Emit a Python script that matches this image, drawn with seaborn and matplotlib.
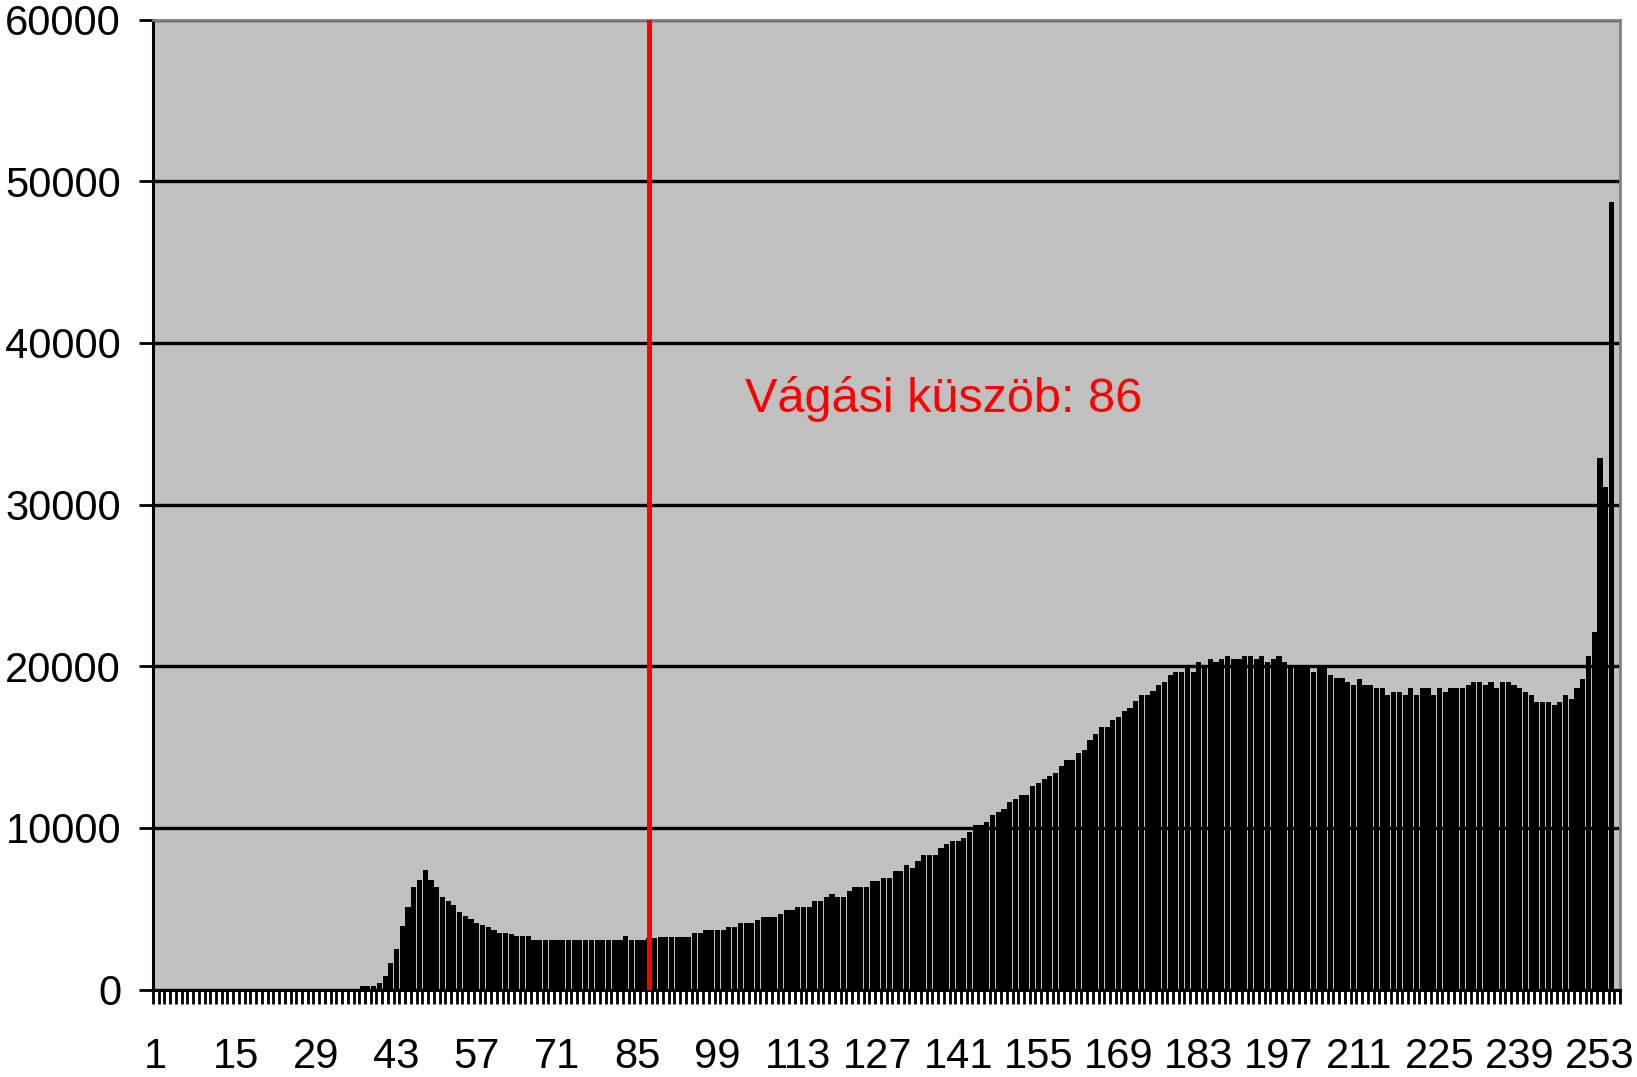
import numpy as np
import pandas as pd
import matplotlib
matplotlib.use("Agg")
import matplotlib.pyplot as plt
import seaborn as sns

# Histogram of grey levels (1..256)
levels = [str(v) for v in range(1, 257)]
counts = [
    0, 0, 0, 0, 0, 0, 0, 0, 0, 0, 0, 0, 0, 0, 0, 0,
    0, 0, 0, 0, 0, 0, 0, 0, 0, 0, 0, 0, 0, 0, 0, 0,
    0, 0, 0, 0, 240, 240, 240, 430, 840, 1670, 2480, 3900, 5120, 6350,
    6760, 7380, 6770, 6350, 5750, 5450, 5200, 4800, 4550, 4350, 4100, 4000, 3850, 3650,
    3490, 3490, 3450, 3290, 3290, 3280,
    3080, 3080, 3080, 3080, 3080, 3080, 3080, 3080, 3080, 3080, 3080, 3080, 3080, 3080, 3080, 3080,
    3280, 3080, 3080, 3070, 3200, 3180, 3270, 3270, 3270, 3270, 3270, 3270, 3480, 3480,
    3690, 3690, 3690, 3690, 3880, 3880, 4090, 4090, 4090, 4290, 4500, 4500, 4500, 4700,
    4910, 4910, 5120, 5120, 5120, 5490, 5490, 5700, 5900, 5700, 5700, 6100, 6310, 6310,
    6310, 6700, 6700, 6910, 6910, 7320, 7320, 7730, 7530, 7940, 8350, 8350, 8350, 8760,
    8970, 9180, 9180, 9380, 9770, 10160, 10160, 10370, 10780, 10990, 11190, 11600, 11810, 12020,
    12020, 12600, 12800, 13010, 13210, 13400, 13810, 14220, 14220, 14610, 14820, 15420, 15830, 16240,
    16240, 16650, 16860, 17220, 17430, 17850, 18230, 18230, 18440, 18850, 19030, 19440, 19650, 19650,
    19860, 19650, 20230, 20060, 20430, 20230, 20430, 20640, 20430, 20430, 20640, 20640, 20430, 20640,
    20230, 20430, 20640, 20230, 20060, 20060, 20060, 19860, 19650, 19860, 19860, 19440, 19240, 19240,
    19030, 18830, 19200, 18830, 18830, 18620, 18620, 18210, 18410, 18410, 18210, 18620, 18210, 18620,
    18620, 18210, 18620, 18410, 18620, 18620, 18620, 18830, 19030, 19030, 18830, 19030, 18620, 19030,
    19030, 18830, 18620, 18410, 18210, 17800, 17800, 17800, 17590, 17800, 18210, 18000, 18620, 19200,
    20640, 22100, 32900, 31100, 48700, 0,
]
threshold = 86
label_text = "Vágási küszöb: 86"
xtick_labels = ["1", "15", "29", "43", "57", "71", "85", "99", "113", "127",
                "141", "155", "169", "183", "197", "211", "225", "239", "253"]
yticks = [0, 10000, 20000, 30000, 40000, 50000, 60000]

sns.set_style("white")
plt.rcParams['font.family'] = ['Liberation Sans', 'DejaVu Sans']
plt.rcParams['text.color'] = 'black'
plt.rcParams['xtick.color'] = 'black'
plt.rcParams['ytick.color'] = 'black'

fig = plt.figure(figsize=(16.37, 10.77), dpi=100)
ax = fig.add_axes([153 / 1637, 87.5 / 1077, 1467 / 1637, 970 / 1077])
ax.set_facecolor('#c0c0c0')

df = pd.DataFrame({'level': levels, 'count': counts})
sns.barplot(data=df, x='level', y='count', order=levels, color='black',
            saturation=1, width=0.9, linewidth=0, ax=ax)

ax.set_xlim(-0.5, 255.5)
ax.set_ylim(0, 60000)
ax.set_xlabel('')
ax.set_ylabel('')

# y axis
ax.set_yticks(yticks)
ax.set_yticklabels([str(v) for v in yticks])
ax.yaxis.grid(True, color='black', linewidth=2.4)
ax.xaxis.grid(False)
ax.set_axisbelow(True)
ax.tick_params(axis='y', which='major', length=10, width=2, color='black',
               labelcolor='black', pad=13, labelsize=30, left=True)

# x axis: labels every 14th level, tick marks on every category boundary
ax.set_xticks([levels.index(l) for l in xtick_labels])
ax.set_xticklabels(xtick_labels)
ax.set_xticks(np.arange(-0.5, 256, 1), minor=True)
ax.tick_params(axis='x', which='major', length=0, pad=34, labelsize=30,
               labelcolor='black')
ax.tick_params(axis='x', which='minor', length=10, width=2, color='black', bottom=True)

for side in ['left', 'bottom']:
    ax.spines[side].set_color('black')
    ax.spines[side].set_linewidth(2.2)
for side in ['top', 'right']:
    ax.spines[side].set_visible(True)
    ax.spines[side].set_color('#808080')
    ax.spines[side].set_linewidth(2)

# threshold line (0-based grey level position)
ax.axvline(threshold, color='#ff0000', linewidth=3.6, zorder=5)
ax.text(102.8, 35700, label_text, color='#ff0000', fontsize=35,
        ha='left', va='baseline')

fig.savefig('out.png', dpi=100)
